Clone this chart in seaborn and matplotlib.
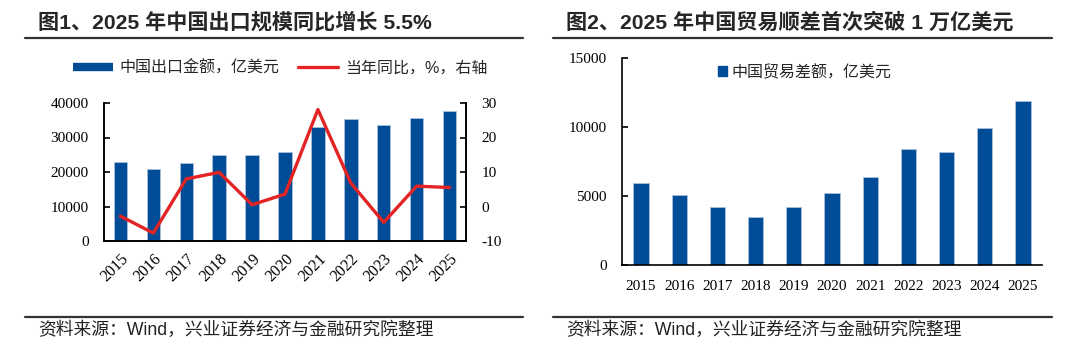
import numpy as np
import pandas as pd
import matplotlib
matplotlib.use('Agg')
import matplotlib.pyplot as plt
from matplotlib.lines import Line2D
from matplotlib.patches import Patch
import seaborn as sns


years = ['2015', '2016', '2017', '2018', '2019', '2020',
         '2021', '2022', '2023', '2024', '2025']
export_value = [22830, 21000, 22630, 24860, 24990, 25860,
                33180, 35390, 33760, 35680, 37710]
export_yoy = [-2.8, -7.7, 8.0, 9.9, 0.5, 3.6, 28.1, 6.8, -4.6, 5.9, 5.5]
trade_surplus = [5930, 5080, 4190, 3510, 4210, 5250,
                 6360, 8400, 8200, 9920, 11880]

title1 = '图1、2025 年中国出口规模同比增长 5.5%'
title2 = '图2、2025 年中国贸易顺差首次突破 1 万亿美元'
label_export = '中国出口金额，亿美元'
label_yoy = '当年同比，%，右轴'
label_surplus = '中国贸易差额，亿美元'
source = '资料来源：Wind，兴业证券经济与金融研究院整理'

BLUE = '#004C97'
RED = '#E32424'
W, H = 1080, 357

sns.set_style('ticks')
plt.rcParams['font.family'] = ['Liberation Sans', 'Noto Sans CJK SC', 'DejaVu Sans']
plt.rcParams['axes.unicode_minus'] = False

fig = plt.figure(figsize=(W / 100, H / 100), dpi=100)


def px_axes(x0, y0, x1, y1):
    return fig.add_axes([x0 / W, 1 - y1 / H, (x1 - x0) / W, (y1 - y0) / H])


def hline(x0, x1, y):
    fig.add_artist(Line2D([x0 / W, x1 / W], [1 - y / H, 1 - y / H],
                          transform=fig.transFigure, color='#333333', lw=1.6))


def style_ticks(ax):
    ax.tick_params(axis='y', direction='in', length=4, width=1.2, labelsize=11,
                   pad=11, labelfontfamily='Liberation Serif', colors='black')
    ax.tick_params(axis='x', length=0, labelsize=11,
                   labelfontfamily='Liberation Serif', colors='black')
    ax.set_xlabel('')
    ax.set_ylabel('')


# chart 1: exports + yoy
df1 = pd.DataFrame({'year': years, 'value': export_value, 'yoy': export_yoy})

ax1 = px_axes(104, 103, 466, 241)
sns.barplot(data=df1, x='year', y='value', color=BLUE, width=0.41, saturation=1,
            edgecolor='#A8C0DC', linewidth=0.6, ax=ax1)
ax1.set_ylim(0, 40000)
ax1.set_yticks(range(0, 40001, 10000))
ax1r = ax1.twinx()
sns.lineplot(x=np.arange(len(years)), y=df1['yoy'], color=RED, lw=2.4, ax=ax1r)
ax1r.set_ylim(-10, 30)
ax1r.set_yticks(range(-10, 31, 10))
ax1.set_xlim(-0.5, len(years) - 0.5)
for a in (ax1, ax1r):
    style_ticks(a)
    a.spines['top'].set_visible(False)
    for s in ('left', 'right', 'bottom'):
        a.spines[s].set_linewidth(1.2)
        a.spines[s].set_color('black')
ax1.tick_params(axis='x', pad=7, labelsize=11.5)
plt.setp(ax1.get_xticklabels(), rotation=45, ha='right', rotation_mode='anchor')

fig.legend(handles=[Line2D([], [], color=BLUE, lw=6, solid_capstyle='butt'),
                    Line2D([], [], color=RED, lw=2.4)],
           labels=[label_export, label_yoy], loc='center',
           bbox_to_anchor=(280 / W, 1 - 68 / H), ncol=2, frameon=False,
           fontsize=11.5, handlelength=2.5, columnspacing=1.2, handletextpad=0.4)

# chart 2: trade surplus
df2 = pd.DataFrame({'year': years, 'surplus': trade_surplus})

ax2 = px_axes(622, 58, 1042, 265)
sns.barplot(data=df2, x='year', y='surplus', color=BLUE, width=0.4, saturation=1,
            edgecolor='#A8C0DC', linewidth=0.6, ax=ax2)
ax2.set_ylim(0, 15000)
ax2.set_yticks(range(0, 15001, 5000))
ax2.set_xlim(-0.5, len(years) - 0.5)
style_ticks(ax2)
ax2.tick_params(axis='x', pad=11)
sns.despine(ax=ax2)
for s in ('left', 'bottom'):
    ax2.spines[s].set_linewidth(1.2)
    ax2.spines[s].set_color('black')

fig.legend(handles=[Patch(color=BLUE)], labels=[label_surplus], loc='center',
           bbox_to_anchor=(805 / W, 1 - 72 / H), frameon=False, fontsize=11.5,
           handlelength=0.55, handleheight=0.55, handletextpad=0.3)

# headers and footers
fig.text(38 / W, 1 - 22 / H, title1, fontsize=15.2, fontweight='bold', va='center')
fig.text(566 / W, 1 - 22 / H, title2, fontsize=15.2, fontweight='bold', va='center')
hline(25, 523, 38)
hline(553, 1052, 38)
hline(25, 523, 317)
hline(553, 1052, 317)
fig.text(38 / W, 1 - 330 / H, source, fontsize=12.8, color='#222222', va='center')
fig.text(566 / W, 1 - 330 / H, source, fontsize=12.8, color='#222222', va='center')

fig.savefig('out.png', dpi=100)
